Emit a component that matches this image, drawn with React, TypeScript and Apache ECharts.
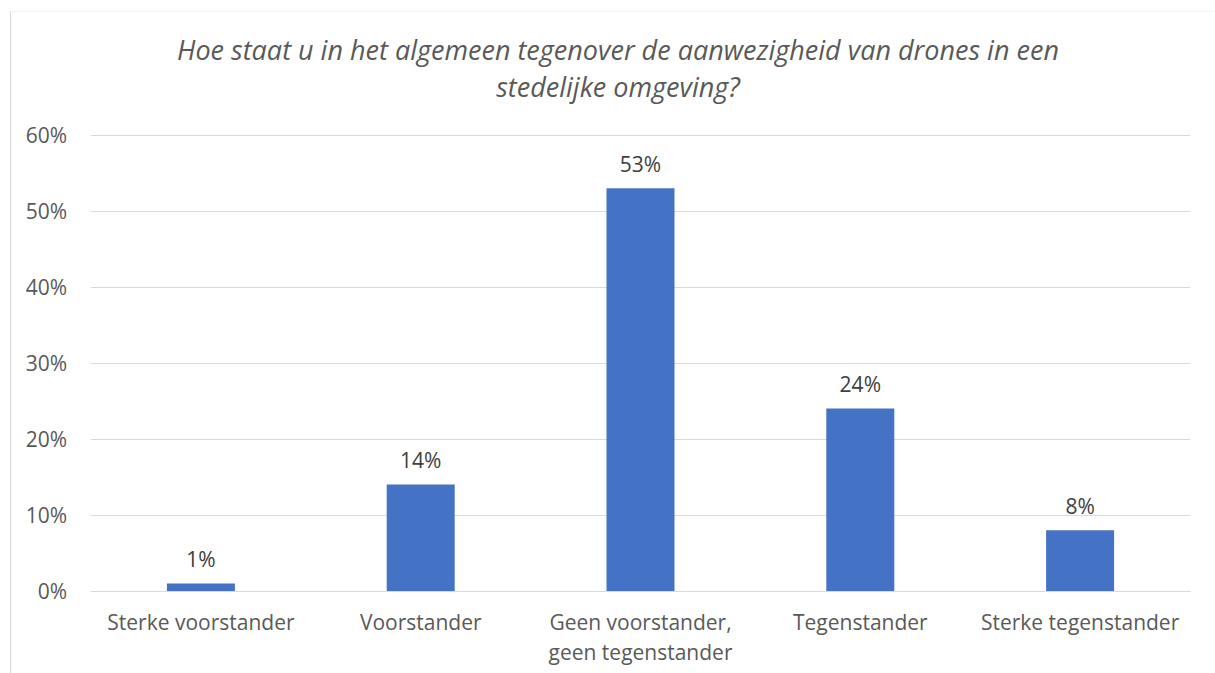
import React, { useEffect, useRef } from "react";
import * as echarts from "echarts";

const title = "Hoe staat u in het algemeen tegenover de aanwezigheid van drones in een\nstedelijke omgeving?";
const categories = [
  "Sterke voorstander",
  "Voorstander",
  "Geen voorstander,\ngeen tegenstander",
  "Tegenstander",
  "Sterke tegenstander",
];
const values = [1, 14, 53, 24, 8];
const yTicks = [0, 10, 20, 30, 40, 50, 60];

const FONT = "Open Sans";
const TEXT = "#595959";

export default function App() {
  const ref = useRef<HTMLDivElement>(null);
  useEffect(() => {
    if (!ref.current) return;
    const chart = echarts.init(ref.current, undefined, { renderer: "svg" });
    chart.setOption({
      animation: false,
      backgroundColor: "#ffffff",
      title: {
        text: title,
        left: 613,
        textAlign: "center",
        top: 26,
        padding: 5,
        textStyle: {
          fontFamily: FONT,
          fontStyle: "italic",
          fontWeight: "normal",
          fontSize: 27,
          lineHeight: 37,
          color: TEXT,
        },
      },
      graphic: [
        { type: "line", shape: { x1: 10.5, y1: 11, x2: 10.5, y2: 673 }, style: { stroke: "#d9d9d9", lineWidth: 1 } },
        { type: "line", shape: { x1: 10, y1: 11.5, x2: 1215, y2: 11.5 }, style: { stroke: "#f2f2f2", lineWidth: 1 } },
      ],
      grid: { left: 91, right: 25, top: 135, bottom: 82 },
      xAxis: {
        type: "category",
        data: categories,
        axisLine: { lineStyle: { color: "#d9d9d9", width: 1 } },
        axisTick: { show: false },
        axisLabel: {
          interval: 0,
          margin: 16,
          fontFamily: FONT,
          fontSize: 21,
          lineHeight: 30,
          color: TEXT,
        },
      },
      yAxis: {
        type: "value",
        min: 0,
        max: 60,
        interval: 10,
        axisLine: { show: false },
        axisTick: { show: false },
        splitLine: { lineStyle: { color: "#d9d9d9", width: 1 } },
        axisLabel: {
          margin: 24,
          fontFamily: FONT,
          fontSize: 21,
          color: TEXT,
          formatter: (v: number) => (yTicks.includes(v) ? v + "%" : ""),
        },
      },
      series: [
        {
          type: "bar",
          data: values,
          barWidth: 68,
          itemStyle: { color: "#4472C4" },
          label: {
            show: true,
            position: "top",
            distance: 14,
            fontFamily: FONT,
            fontSize: 21,
            color: "#404040",
            formatter: (p: any) => p.value + "%",
          },
        },
      ],
    });
    return () => chart.dispose();
  }, []);
  return <div ref={ref} style={{ position: "fixed", left: 0, top: 0, width: 1215, height: 673 }} />;
}
